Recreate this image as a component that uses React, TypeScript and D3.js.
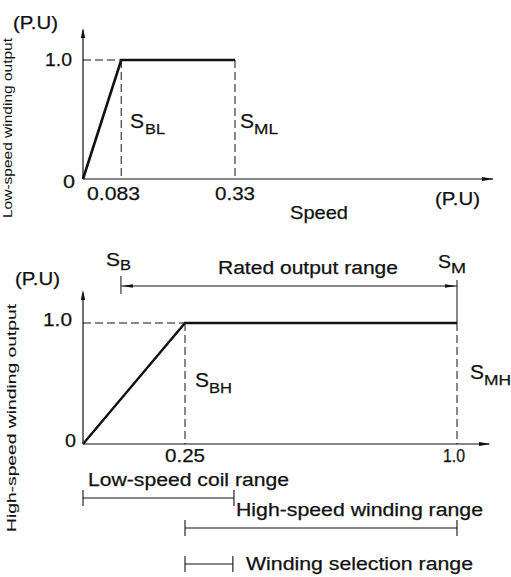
import React from "react";
import * as d3 from "d3";

// ---- data ----
const topBreaks = [0, 0.083, 0.33];          // low-speed winding: S_BL, S_ML
const topOutput = [0, 1, 1];                  // output (P.U)
const topTicks = ["0.083", "0.33"];
const topTickValues = [0.083, 0.33];

const botBreaks = [0, 0.25, 1.0];             // high-speed winding: S_BH, S_MH
const botOutput = [0, 1, 1];
const botTicks = ["0.25", "1.0"];
const botTickValues = [0.25, 1.0];

const ratedRange = [0.093, 1.0];              // S_B .. S_M
const rangeNames = ["Low-speed coil range", "High-speed winding range", "Winding selection range"];
const rangeStart = [0, 0.25, 0.25];
const rangeEnd = [0.385, 1.0, 0.382];

const FONT = "'Liberation Sans', Arial, Helvetica, sans-serif";

function Arrow({ x1, y1, x2, y2, len = 10, half = 2.2 }: any) {
  const a = Math.atan2(y2 - y1, x2 - x1);
  const bx = x2 - len * Math.cos(a), by = y2 - len * Math.sin(a);
  const px = -Math.sin(a) * half, py = Math.cos(a) * half;
  return <path d={`M${x2},${y2}L${bx + px},${by + py}L${bx - px},${by - py}Z`} fill="#111" />;
}

function T({ x, y, s, size = 18, len, anchor = "start", rot, sw = 0.25 }: any) {
  return (
    <text x={x} y={y} fontSize={size} fontFamily={FONT} fill="#111" textAnchor={anchor}
      textLength={len} lengthAdjust="spacingAndGlyphs" stroke="#111" strokeWidth={sw}
      transform={rot ? `rotate(${rot},${x},${y})` : undefined}>{s}</text>
  );
}

export default function App() {
  // top chart scales
  const xT = d3.scaleLinear().domain([0, 0.33]).range([83, 235]);
  const yT = d3.scaleLinear().domain([0, 1]).range([179, 60]);
  // bottom chart scales (schematic, piecewise)
  const xB = d3.scaleLinear().domain([0, 0.25, 1]).range([83, 185, 457]);
  const yB = d3.scaleLinear().domain([0, 1]).range([444, 323]);

  const line = (xs: any, ys: any) => d3.line<number>().x((_, i) => xs(i)).y((_, i) => ys(i));
  const topPath = line((i: number) => xT(topBreaks[i]), (i: number) => yT(topOutput[i]))(topBreaks as any);
  const botPath = line((i: number) => xB(botBreaks[i]), (i: number) => yB(botOutput[i]))(botBreaks as any);

  const dash = "8,4";
  const rangeY = [498, 528, 564];
  const rangeTextX = [88, 236, 246];
  const rangeTextY = [486, 516, 570];
  const rangeTextLen = [201, 247, 227];

  return (
    <svg width={511} height={577} style={{ position: "absolute", left: 0, top: 0, background: "#fff" }}>
      {/* ---------- TOP CHART ---------- */}
      <line x1={xT(0)} y1={yT(0)} x2={xT(0)} y2={30} stroke="#111" strokeWidth={1.2} />
      <Arrow x1={xT(0)} y1={yT(0)} x2={xT(0)} y2={28} />
      <line x1={xT(0)} y1={yT(0)} x2={493} y2={yT(0)} stroke="#111" strokeWidth={1.2} />
      <Arrow x1={xT(0)} y1={yT(0)} x2={494} y2={yT(0)} len={12} half={2} />
      <line x1={xT(0)} y1={yT(1)} x2={xT(topBreaks[1])} y2={yT(1)} stroke="#111" strokeWidth={1} strokeDasharray={dash} />
      {topTickValues.map((v, i) => (
        <line key={i} x1={xT(v)} y1={yT(1)} x2={xT(v)} y2={yT(0)} stroke="#111" strokeWidth={1} strokeDasharray={dash} />
      ))}
      <path d={topPath || ""} fill="none" stroke="#111" strokeWidth={2.6} strokeLinejoin="miter" />
      <T x={13} y={29} s="(P.U)" size={19} len={45} />
      <T x={72} y={66} s="1.0" size={19} len={27} anchor="end" />
      <T x={75} y={188} s="0" size={19} len={12} anchor="end" />
      <T x={87} y={200} s={topTicks[0]} size={19} len={53} />
      <T x={215} y={200} s={topTicks[1]} size={19} len={40} />
      <T x={435} y={205} s="(P.U)" size={19} len={45} />
      <T x={290} y={219} s="Speed" size={19} len={58} />
      <T x={130} y={128} s="S" size={21} len={14} />
      <T x={145} y={134} s="BL" size={15} len={20} />
      <T x={240} y={128} s="S" size={21} len={14} />
      <T x={254} y={134} s="ML" size={15} len={24} />
      <T x={12} y={128} s="Low-speed winding output" size={12} len={180} anchor="middle" rot={-90} sw={0} />

      {/* ---------- BOTTOM CHART ---------- */}
      <line x1={xB(0)} y1={yB(0)} x2={xB(0)} y2={293} stroke="#111" strokeWidth={1.2} />
      <Arrow x1={xB(0)} y1={yB(0)} x2={xB(0)} y2={290} />
      <line x1={xB(0)} y1={yB(0)} x2={489} y2={yB(0)} stroke="#111" strokeWidth={1.2} />
      <Arrow x1={xB(0)} y1={yB(0)} x2={491} y2={yB(0)} len={12} half={2} />
      <line x1={xB(0)} y1={yB(1)} x2={xB(botBreaks[1])} y2={yB(1)} stroke="#111" strokeWidth={1} strokeDasharray={dash} />
      {botTickValues.map((v, i) => (
        <line key={i} x1={xB(v)} y1={yB(1)} x2={xB(v)} y2={yB(0)} stroke="#111" strokeWidth={1} strokeDasharray={dash} />
      ))}
      <path d={botPath || ""} fill="none" stroke="#111" strokeWidth={2.4} strokeLinejoin="miter" />
      {/* rated output range */}
      <line x1={xB(ratedRange[0])} y1={286} x2={xB(ratedRange[1])} y2={286} stroke="#111" strokeWidth={1.2} />
      <line x1={xB(ratedRange[0])} y1={276} x2={xB(ratedRange[0])} y2={294} stroke="#111" strokeWidth={1} />
      <line x1={xB(ratedRange[1])} y1={280} x2={xB(ratedRange[1])} y2={yB(1)} stroke="#111" strokeWidth={1} />
      <Arrow x1={xB(ratedRange[1])} y1={286} x2={xB(ratedRange[0]) + 1} y2={286} len={11} half={1.8} />
      <Arrow x1={xB(ratedRange[0])} y1={286} x2={xB(ratedRange[1]) - 1} y2={286} len={11} half={1.8} />
      <T x={218} y={274} s="Rated output range" size={18} len={180} />
      <T x={106} y={266} s="S" size={18} len={14} />
      <T x={120} y={270} s="B" size={14} len={11} />
      <T x={438} y={268} s="S" size={18} len={13} />
      <T x={451} y={273} s="M" size={14} len={15} />

      <T x={15} y={285} s="(P.U)" size={19} len={45} />
      <T x={72} y={326} s="1.0" size={19} len={29} anchor="end" />
      <T x={76} y={447} s="0" size={19} len={11} anchor="end" />
      <T x={165} y={462} s={botTicks[0]} size={19} len={40} />
      <T x={443} y={462} s={botTicks[1]} size={19} len={22} />
      <T x={195} y={387} s="S" size={20} len={14} />
      <T x={209} y={393} s="BH" size={15} len={23} />
      <T x={470} y={379} s="S" size={20} len={14} />
      <T x={484} y={385} s="MH" size={15} len={27} />
      <T x={16} y={418} s="High-speed winding output" size={12.5} len={228} anchor="middle" rot={-90} sw={0.1} />

      {/* range bars */}
      {rangeNames.map((n, i) => (
        <g key={n}>
          <line x1={xB(rangeStart[i])} y1={rangeY[i]} x2={xB(rangeEnd[i])} y2={rangeY[i]} stroke="#111" strokeWidth={1.2} />
          <line x1={xB(rangeStart[i])} y1={rangeY[i] - 8} x2={xB(rangeStart[i])} y2={rangeY[i] + 8} stroke="#111" strokeWidth={1.1} />
          <line x1={xB(rangeEnd[i])} y1={rangeY[i] - 8} x2={xB(rangeEnd[i])} y2={rangeY[i] + 8} stroke="#111" strokeWidth={1.1} />
          <T x={rangeTextX[i]} y={rangeTextY[i]} s={n} size={18} len={rangeTextLen[i]} />
        </g>
      ))}
    </svg>
  );
}
